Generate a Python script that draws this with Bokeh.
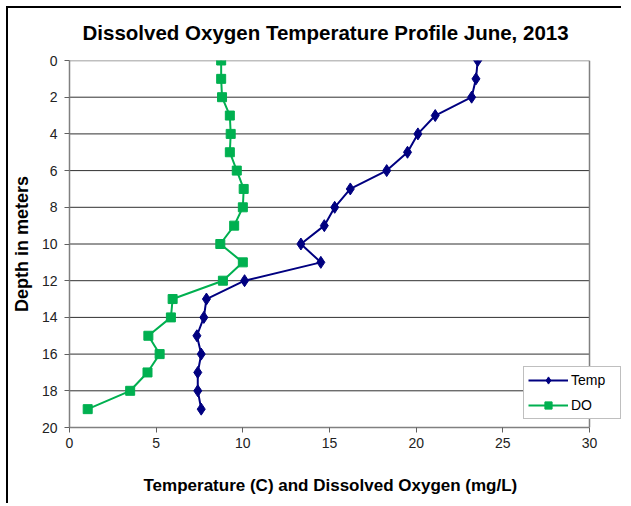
from bokeh.plotting import figure
from bokeh.models import Range1d, FixedTicker, Legend, LegendItem, Title, Span
from bokeh.embed import file_html
from bokeh.resources import INLINE

depth = [0, 1, 2, 3, 4, 5, 6, 7, 8, 9, 10, 11, 12, 13, 14, 15, 16, 17, 18, 19]
temp = [23.55, 23.45, 23.2, 21.1, 20.1, 19.5, 18.3, 16.2, 15.3, 14.7, 13.35, 14.5,
        10.1, 7.9, 7.75, 7.35, 7.6, 7.4, 7.4, 7.6]
do = [8.75, 8.75, 8.8, 9.25, 9.3, 9.25, 9.65, 10.05, 10.0, 9.5, 8.7, 10.0,
      8.85, 5.95, 5.85, 4.55, 5.2, 4.5, 3.5, 1.05]
x_ticks = [0, 5, 10, 15, 20, 25, 30]
y_ticks = [0, 2, 4, 6, 8, 10, 12, 14, 16, 18, 20]

FONT = "Liberation Sans"
TEMP_COLOR = "#000080"
DO_COLOR = "#00B050"

X_MAX = x_ticks[-1]
X_VIEW = X_MAX * 553 / 520  # extra room on the right for the legend

p = figure(width=615, height=497, output_backend="svg", toolbar_location=None,
           x_range=Range1d(0, X_VIEW), y_range=Range1d(y_ticks[-1], y_ticks[0]),
           min_border_left=61, min_border_right=1, min_border_top=52, min_border_bottom=78)
p.styles = {"border-left": "2px solid #000000", "border-top": "2px solid #000000",
            "margin-left": "6px", "margin-top": "6px"}


def spacer(gap):
    # blank (space-only) title used as a layout gap
    return Title(text=" ", text_font_size="1px", text_color="white", standoff=gap)


p.title = None
# first item in "above" sits next to the frame
p.add_layout(spacer(9), "above")
p.add_layout(Title(text="Dissolved Oxygen  Temperature Profile June, 2013", align="left",
                   offset=13, text_font=FONT, text_font_size="20.5px", text_font_style="bold",
                   text_color="#000000", standoff=10), "above")

p.background_fill_color = "white"
p.border_fill_color = "white"
p.outline_line_color = None

p.xaxis.ticker = FixedTicker(ticks=x_ticks)
p.yaxis.ticker = FixedTicker(ticks=y_ticks)
p.xaxis.bounds = (x_ticks[0], x_ticks[-1])
for ax in (p.xaxis, p.yaxis):
    ax.axis_line_color = "#808080"
    ax.axis_line_width = 1.5
    ax.major_tick_line_color = "#606060"
    ax.major_tick_line_width = 1
    ax.major_tick_out = 5
    ax.major_tick_in = 0
    ax.minor_tick_line_color = None
    ax.major_label_text_font = FONT
    ax.major_label_text_font_size = "14px"
    ax.major_label_text_color = "#222222"
    ax.axis_label_text_font = FONT
    ax.axis_label_text_font_style = "bold"
    ax.axis_label_text_color = "#000000"
p.yaxis.axis_label = "Depth in meters"
p.yaxis.axis_label_text_font_size = "18px"
p.xaxis.major_label_standoff = 5
p.yaxis.major_label_standoff = 7
p.yaxis.axis_label_standoff = 7

# x-axis title, placed under the 0..30 part of the axis (gap, then title)
p.add_layout(spacer(18), "below")
p.add_layout(Title(text="Temperature (C) and Dissolved Oxygen (mg/L)", align="left", offset=74,
                   text_font=FONT, text_font_size="17px", text_font_style="bold",
                   text_color="#000000", standoff=4), "below")

p.xgrid.grid_line_color = None
p.ygrid.grid_line_color = None

# horizontal gridlines over the 0..30 plot area
inner = y_ticks[1:-1]
p.segment(x0=[x_ticks[0]] * len(inner), x1=[X_MAX] * len(inner), y0=inner, y1=inner,
          line_color="#303030", line_width=1)
p.segment(x0=[x_ticks[0]], x1=[X_MAX], y0=[y_ticks[0]], y1=[y_ticks[0]],
          line_color="#808080", line_width=1.5)
p.add_layout(Span(location=X_MAX, dimension="height", line_color="#808080", line_width=1.5))

r_temp_l = p.line(temp, depth, line_color=TEMP_COLOR, line_width=2)
r_temp_m = p.scatter(temp, depth, marker="diamond", size=12, fill_color=TEMP_COLOR, line_color=TEMP_COLOR)
r_do_l = p.line(do, depth, line_color=DO_COLOR, line_width=2)
r_do_m = p.scatter(do, depth, marker="square", size=9, fill_color=DO_COLOR, line_color=DO_COLOR)

legend = Legend(items=[LegendItem(label="Temp", renderers=[r_temp_l, r_temp_m]),
                       LegendItem(label="DO", renderers=[r_do_l, r_do_m])],
                location=(454, 8), orientation="vertical")
legend.label_text_font = FONT
legend.label_text_font_size = "14px"
legend.label_text_color = "#000000"
legend.border_line_color = "#808080"
legend.border_line_width = 1
legend.background_fill_color = "white"
legend.background_fill_alpha = 1
legend.padding = 4
legend.spacing = 7
legend.glyph_width = 40
legend.glyph_height = 18
legend.label_height = 18
legend.label_width = 45
legend.label_standoff = 3
legend.margin = 0
p.add_layout(legend, "center")

open("out.html", "w").write(file_html(p, INLINE))
